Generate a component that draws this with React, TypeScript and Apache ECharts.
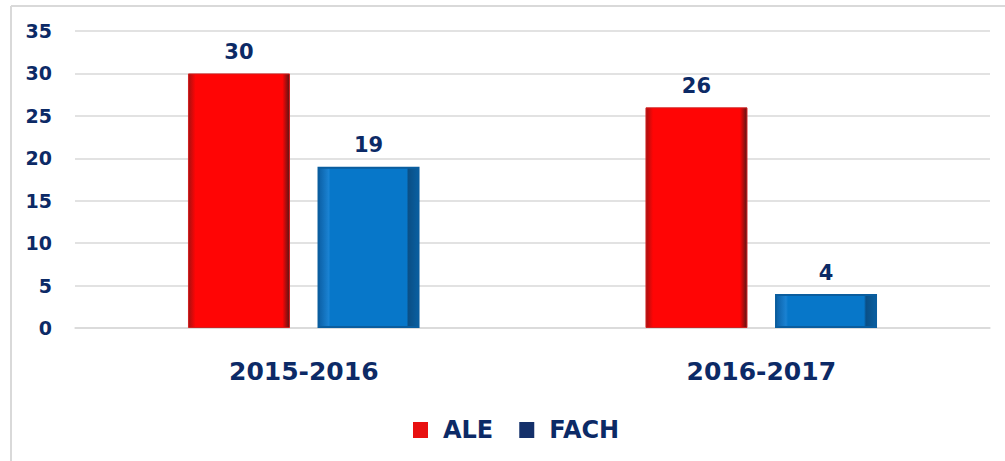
import React, { useEffect, useRef } from "react";
import * as echarts from "echarts";

const categories = ["2015-2016", "2016-2017"];
const aleValues = [30, 26];
const fachValues = [19, 4];
const yTicks = { min: 0, max: 35, interval: 5 };

const NAVY = "#0c2a66";
const FONT = "DejaVu Sans";

export default function App() {
  const ref = useRef<HTMLDivElement>(null);
  useEffect(() => {
    if (!ref.current) return;
    const chart = echarts.init(ref.current, null, { renderer: "svg" });
    const redGrad = new echarts.graphic.LinearGradient(0, 0, 1, 0, [
      { offset: 0, color: "#a81010" },
      { offset: 0.07, color: "#ff0505" },
      { offset: 0.93, color: "#ff0505" },
      { offset: 1, color: "#5a1414" },
    ]);
    const blueGrad = new echarts.graphic.LinearGradient(0, 0, 1, 0, [
      { offset: 0, color: "#0b5fa5" },
      { offset: 0.1, color: "#1a82d2" },
      { offset: 0.12, color: "#0777c9" },
      { offset: 0.88, color: "#0777c9" },
      { offset: 0.9, color: "#0a4f86" },
      { offset: 1, color: "#0a5fa0" },
    ]);
    chart.setOption({
      animation: false,
      backgroundColor: "#ffffff",
      graphic: [
        { type: "line", shape: { x1: 11, y1: 6, x2: 1005, y2: 6 }, style: { stroke: "#d9d9d9", lineWidth: 2 } },
        { type: "line", shape: { x1: 11, y1: 6, x2: 11, y2: 461 }, style: { stroke: "#d9d9d9", lineWidth: 2 } },
      ],
      grid: { left: 75, right: 15, top: 31, bottom: 133, containLabel: false },
      legend: {
        data: [
          { name: "ALE", itemStyle: { color: "#e81010", borderWidth: 0 } },
          { name: "FACH", itemStyle: { color: "#14306a", borderWidth: 0 } },
        ],
        left: 408,
        top: 413,
        itemWidth: 15,
        itemHeight: 16,
        itemGap: 26,
        icon: "rect",
        textStyle: { fontFamily: FONT, fontWeight: "bold", fontSize: 24, color: NAVY, padding: [0, 0, 0, 10] },
      },
      xAxis: {
        type: "category",
        data: categories,
        axisLine: { lineStyle: { color: "#d9d9d9", width: 1.5 } },
        axisTick: { show: false },
        axisLabel: { fontFamily: FONT, fontWeight: "bold", fontSize: 25, color: NAVY, margin: 31 },
      },
      yAxis: {
        type: "value",
        min: yTicks.min,
        max: yTicks.max,
        interval: yTicks.interval,
        axisLine: { show: false },
        axisTick: { show: false },
        splitLine: { lineStyle: { color: "#d9d9d9", width: 1.5 } },
        axisLabel: { fontFamily: FONT, fontWeight: "bold", fontSize: 19, color: NAVY, margin: 23 },
      },
      series: [
        {
          name: "ALE",
          type: "bar",
          data: aleValues,
          barWidth: 102,
          barGap: "27%",
          itemStyle: { color: redGrad, borderColor: "#d02020", borderWidth: 1 },
          label: { show: true, position: "top", distance: 11, fontFamily: FONT, fontWeight: "bold", fontSize: 21, color: NAVY },
        },
        {
          name: "FACH",
          type: "bar",
          data: fachValues,
          barWidth: 102,
          itemStyle: { color: blueGrad, borderColor: "#0a5d9e", borderWidth: 2 },
          label: { show: true, position: "top", distance: 11, fontFamily: FONT, fontWeight: "bold", fontSize: 21, color: NAVY },
        },
      ],
    });
    return () => chart.dispose();
  }, []);
  return (
    <div
      ref={ref}
      style={{ position: "absolute", left: 0, top: 0, width: 1005, height: 461 }}
    />
  );
}
